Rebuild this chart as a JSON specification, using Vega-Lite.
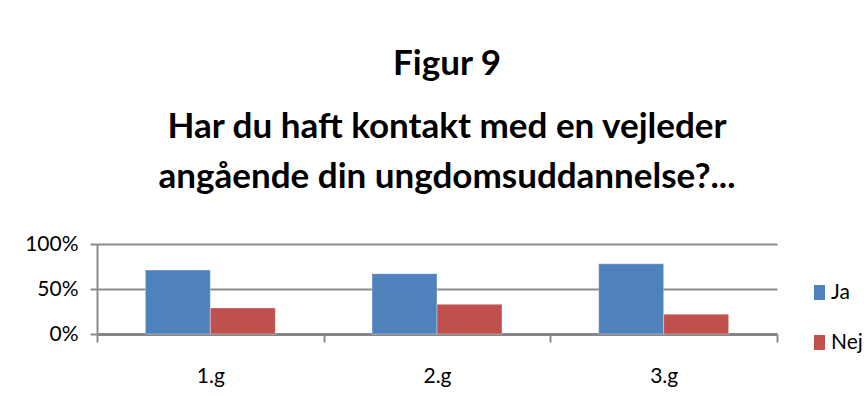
{
  "$schema": "https://vega.github.io/schema/vega-lite/v6.json",
  "width": 680,
  "height": 90,
  "autosize": "none",
  "padding": {"left": 97, "top": 244, "right": 87, "bottom": 80},
  "background": "white",
  "title": {
    "text": "Figur 9",
    "subtitle": ["Har du haft kontakt med en vejleder", "angående din ungdomsuddannelse?..."],
    "anchor": "middle",
    "dx": 10,
    "offset": 38,
    "font": "Lato",
    "fontSize": 35,
    "fontWeight": "bold",
    "color": "black",
    "subtitleFont": "Lato",
    "subtitleFontSize": 35,
    "subtitleFontWeight": "bold",
    "subtitleColor": "black",
    "subtitleLineHeight": 50,
    "subtitlePadding": 28
  },
  "data": {
    "values": [
      {"klasse": "1.g", "svar": "Ja", "andel": 0.71},
      {"klasse": "1.g", "svar": "Nej", "andel": 0.29},
      {"klasse": "2.g", "svar": "Ja", "andel": 0.67},
      {"klasse": "2.g", "svar": "Nej", "andel": 0.33},
      {"klasse": "3.g", "svar": "Ja", "andel": 0.78},
      {"klasse": "3.g", "svar": "Nej", "andel": 0.22}
    ]
  },
  "mark": {"type": "bar", "stroke": "white", "strokeOpacity": 0.35, "strokeWidth": 1},
  "encoding": {
    "x": {
      "field": "klasse",
      "type": "nominal",
      "title": null,
      "scale": {"paddingInner": 0, "paddingOuter": 0},
      "axis": {
        "labelAngle": 0,
        "tickBand": "extent",
        "tickSize": 8,
        "tickWidth": 2,
        "tickColor": "#8c8c8c",
        "domainColor": "#868686",
        "domainWidth": 3,
        "labelPadding": 23,
        "labelFont": "Lato",
        "labelFontSize": 21,
        "labelColor": "black",
        "grid": false
      }
    },
    "xOffset": {"field": "svar", "type": "nominal", "scale": {"paddingInner": 0, "paddingOuter": 0.744}},
    "y": {
      "field": "andel",
      "type": "quantitative",
      "title": null,
      "scale": {"domain": [0, 1]},
      "axis": {
        "values": [0, 0.5, 1],
        "format": "%",
        "tickSize": 7,
        "tickWidth": 2,
        "tickColor": "#8c8c8c",
        "domainColor": "#8c8c8c",
        "domainWidth": 2,
        "gridColor": "#8c8c8c",
        "gridWidth": 2,
        "labelPadding": 12,
        "labelFont": "Lato",
        "labelFontSize": 21,
        "labelColor": "black"
      }
    },
    "color": {
      "field": "svar",
      "type": "nominal",
      "scale": {"domain": ["Ja", "Nej"], "range": ["#4F81BD", "#C0504D"]},
      "legend": {
        "title": null,
        "orient": "none",
        "legendX": 712,
        "legendY": 38,
        "symbolType": "M-0.733,-1H0.733V1H-0.733Z",
        "symbolSize": 225,
        "symbolStrokeWidth": 0,
        "symbolOpacity": 1,
        "labelFont": "Lato",
        "labelFontSize": 21,
        "labelColor": "black",
        "labelOffset": 1,
        "rowPadding": 28
      }
    }
  },
  "config": {"view": {"stroke": null}}
}
